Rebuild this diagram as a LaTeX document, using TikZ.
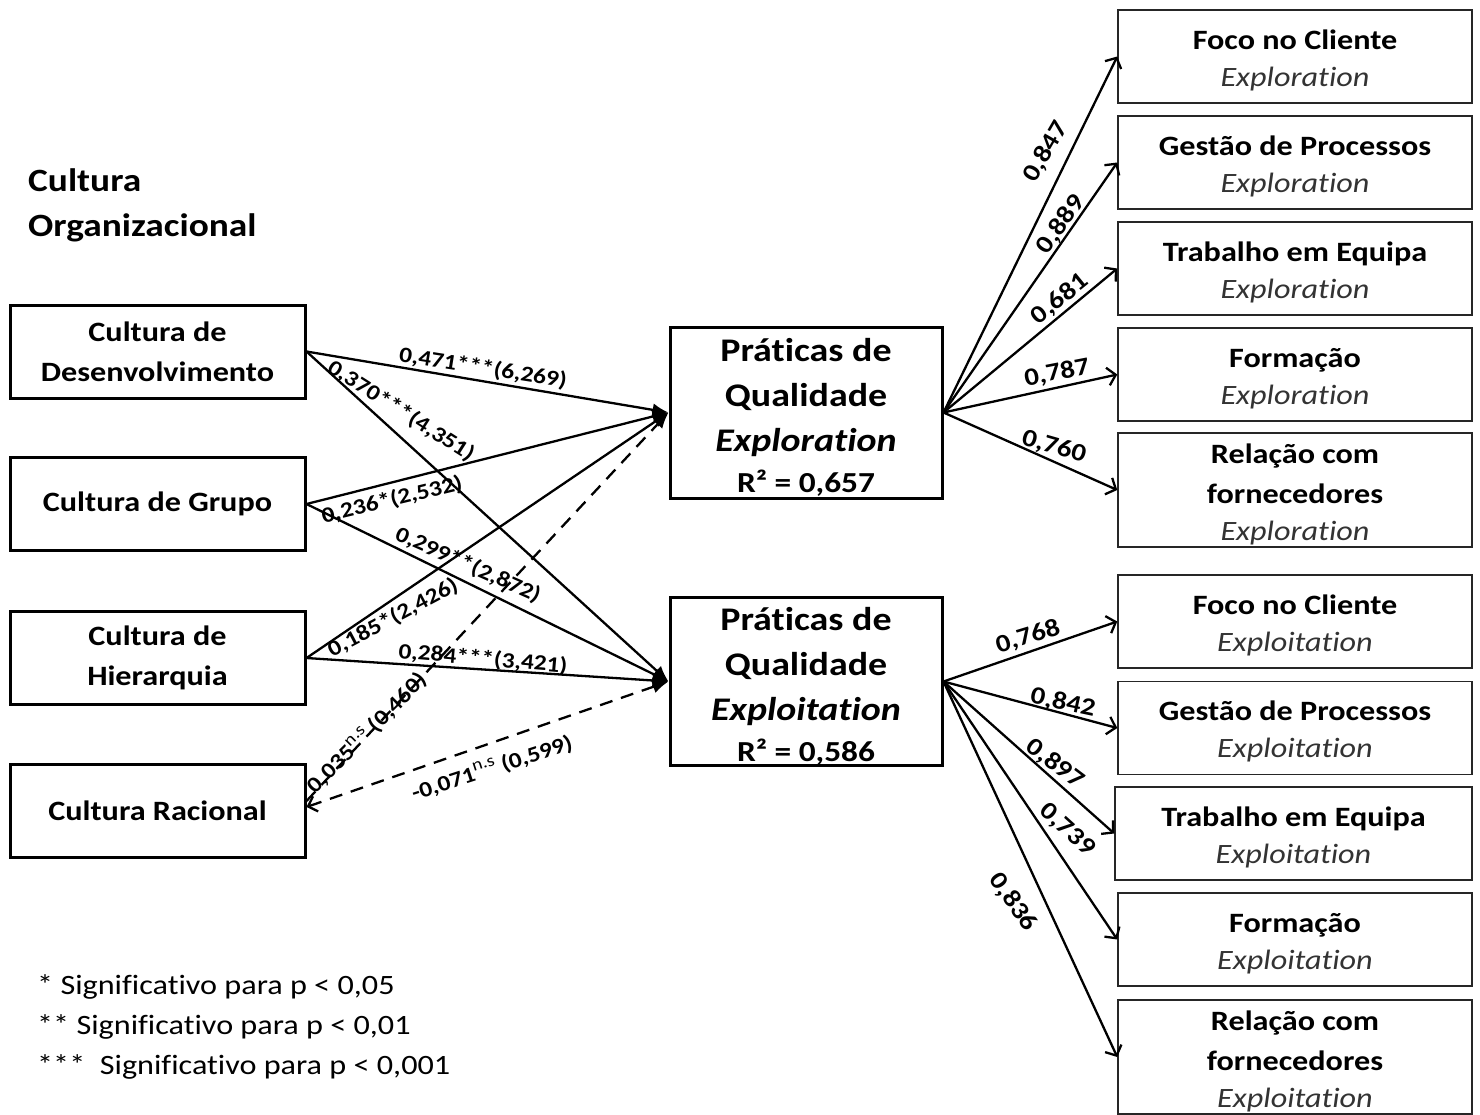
\documentclass[tikz,border=0pt]{standalone}
\usepackage{fontspec}
\setmainfont{Carlito}[FakeStretch=1.15, Ligatures=NoCommon]
\usetikzlibrary{arrows.meta}
\newcommand\rboxtext[2]{{\bfseries #1}\\{\itshape\color{black!80}#2}}
\newcommand\nsup{\raisebox{9pt}{\fontsize{17}{17}\selectfont\mdseries n.s}}
\begin{document}
\begin{tikzpicture}[x=1pt,y=-1pt,
  lbox/.style={draw, line width=3pt, minimum width=295pt, minimum height=93pt, align=center, inner sep=0pt,
    font=\fontsize{28}{40}\selectfont\bfseries},
  mbox/.style={draw, line width=3pt, minimum width=272pt, align=center, inner sep=0pt,
    font=\fontsize{33}{45}\selectfont\bfseries},
  rbox/.style={draw=black!85, line width=1.5pt, minimum width=354pt, minimum height=93pt, align=center, inner sep=0pt,
    font=\fontsize{28}{37}\selectfont},
  larr/.style={line width=2.3pt, -{Latex[length=16pt,width=13pt]}},
  darr/.style={larr, dash pattern=on 13pt off 9pt},
  rarr/.style={line width=2.3pt, -{Straight Barb[length=8pt,width=18pt]}},
  lab/.style={inner sep=0pt, font=\fontsize{22}{24}\selectfont\bfseries},
  rlab/.style={inner sep=0pt, font=\fontsize{25}{27}\selectfont\bfseries}
]
\clip (0,0) rectangle (1480,1114);
\fill[white] (0,0) rectangle (1480,1114);

% title
\node[anchor=west, align=left, inner sep=0pt, font=\fontsize{32.5}{45}\selectfont\bfseries] (title) at (28,205) {Cultura\\Organizacional};

% left boxes
\node[lbox] (dev) at (157.5,351.5) {Cultura de\\Desenvolvimento};
\node[lbox] (gru) at (157.5,504) {Cultura de Grupo};
\node[lbox] (hie) at (157.5,658) {Cultura de\\Hierarquia};
\node[lbox] (rac) at (157.5,811) {Cultura Racional};

% middle boxes
\node[mbox, minimum height=171pt] (expr) at (806,412.5) {\rule{0pt}{33pt}Práticas de\\Qualidade\\\textit{Exploration}\\[-4pt]{\fontsize{29}{40}\selectfont R² = 0,657}};
\node[mbox, minimum height=167pt] (expt) at (806,681.5) {\rule{0pt}{33pt}Práticas de\\Qualidade\\\textit{Exploitation}\\[-4pt]{\fontsize{29}{40}\selectfont R² = 0,586}};

% right boxes exploration
\node[rbox] (r1) at (1295,56.5) {\rule{0pt}{27pt}\rboxtext{Foco no Cliente}{Exploration}};
\node[rbox] (r2) at (1295,162.5) {\rule{0pt}{27pt}\rboxtext{Gestão de Processos}{Exploration}};
\node[rbox] (r3) at (1295,268.5) {\rule{0pt}{27pt}\rboxtext{Trabalho em Equipa}{Exploration}};
\node[rbox] (r4) at (1295,374.5) {\rule{0pt}{27pt}\rboxtext{Formação}{Exploration}};
\node[rbox, minimum height=114pt] (r5) at (1295,490) {\rule{0pt}{29pt}{\bfseries Relação com}\\[3pt]\rboxtext{fornecedores}{Exploration}};
% right boxes exploitation
\node[rbox] (s1) at (1295,621.5) {\rule{0pt}{27pt}\rboxtext{Foco no Cliente}{Exploitation}};
\node[rbox] (s2) at (1295,728) {\rule{0pt}{27pt}\rboxtext{Gestão de Processos}{Exploitation}};
\node[rbox, minimum width=357pt] (s3) at (1293.5,833.5) {\rule{0pt}{27pt}\rboxtext{Trabalho em Equipa}{Exploitation}};
\node[rbox] (s4) at (1295,939.5) {\rule{0pt}{27pt}\rboxtext{Formação}{Exploitation}};
\node[rbox, minimum height=114pt] (s5) at (1295,1057) {\rule{0pt}{29pt}{\bfseries Relação com}\\[3pt]\rboxtext{fornecedores}{Exploitation}};

% left connectors
\draw[larr] (dev.east) -- (expr.west);
\draw[larr] (dev.east) -- (expt.west);
\draw[larr] (gru.east) -- (expr.west);
\draw[larr] (gru.east) -- (expt.west);
\draw[larr] (hie.east) -- (expr.west);
\draw[larr] (hie.east) -- (expt.west);
\draw[darr] ([yshift=10pt]rac.east) -- (expr.west);
\draw[darr, {Straight Barb[length=8pt,width=16pt]}-{Latex[length=16pt,width=13pt]}] ([yshift=4pt]rac.east) -- (expt.west);

% left labels
\node[lab, rotate=-9] (l1) at (483,368) {0,471***(6,269)};
\node[lab, rotate=-32.5] (l2) at (401,411) {0,370***(4,351)};
\node[lab, rotate=13.5] (l3) at (392,500) {0,236*(2,532)};
\node[lab, rotate=-24] (l4) at (468,565) {0,299**(2,872)};
\node[lab, rotate=28] (l5) at (393,618) {0,185*(2,426)};
\node[lab, rotate=-5] (l6) at (483,659) {0,284***(3,421)};
\node[lab, rotate=45] (l7) at (367,733) {0,035\nsup\ (0,460)};
\node[lab, rotate=18] (l8) at (492,768) {-0,071\nsup\ (0,599)};

% right connectors exploration
\draw[rarr] (expr.east) -- (r1.west);
\draw[rarr] (expr.east) -- (r2.west);
\draw[rarr] (expr.east) -- (r3.west);
\draw[rarr] (expr.east) -- (r4.west);
\draw[rarr] (expr.east) -- (r5.west);
% right connectors exploitation
\draw[rarr] (expt.east) -- (s1.west);
\draw[rarr] (expt.east) -- (s2.west);
\draw[rarr] (expt.east) -- (s3.west);
\draw[rarr] (expt.east) -- (s4.west);
\draw[rarr] (expt.east) -- (s5.west);

% right labels
\node[rlab, rotate=60] (a1) at (1046,152) {0,847};
\node[rlab, rotate=55] (a2) at (1061,225) {0,889};
\node[rlab, rotate=39] (a3) at (1060,299) {0,681};
\node[rlab, rotate=11] (a4) at (1057,373) {0,787};
\node[rlab, rotate=-16] (a5) at (1054,447) {0,760};
\node[rlab, rotate=17] (b1) at (1028,637) {0,768};
\node[rlab, rotate=-12] (b2) at (1063,703) {0,842};
\node[rlab, rotate=-37] (b3) at (1055,764) {0,897};
\node[rlab, rotate=-42] (b4) at (1067,830) {0,739};
\node[rlab, rotate=-55] (b5) at (1013,902) {0,836};

% legend
\node[anchor=north west, align=left, inner sep=0pt, font=\fontsize{28}{40}\selectfont] (leg) at (37,974)
  {* Significativo para p < 0,05\\** Significativo para p < 0,01\\*** \ Significativo para p < 0,001};
\end{tikzpicture}
\end{document}
